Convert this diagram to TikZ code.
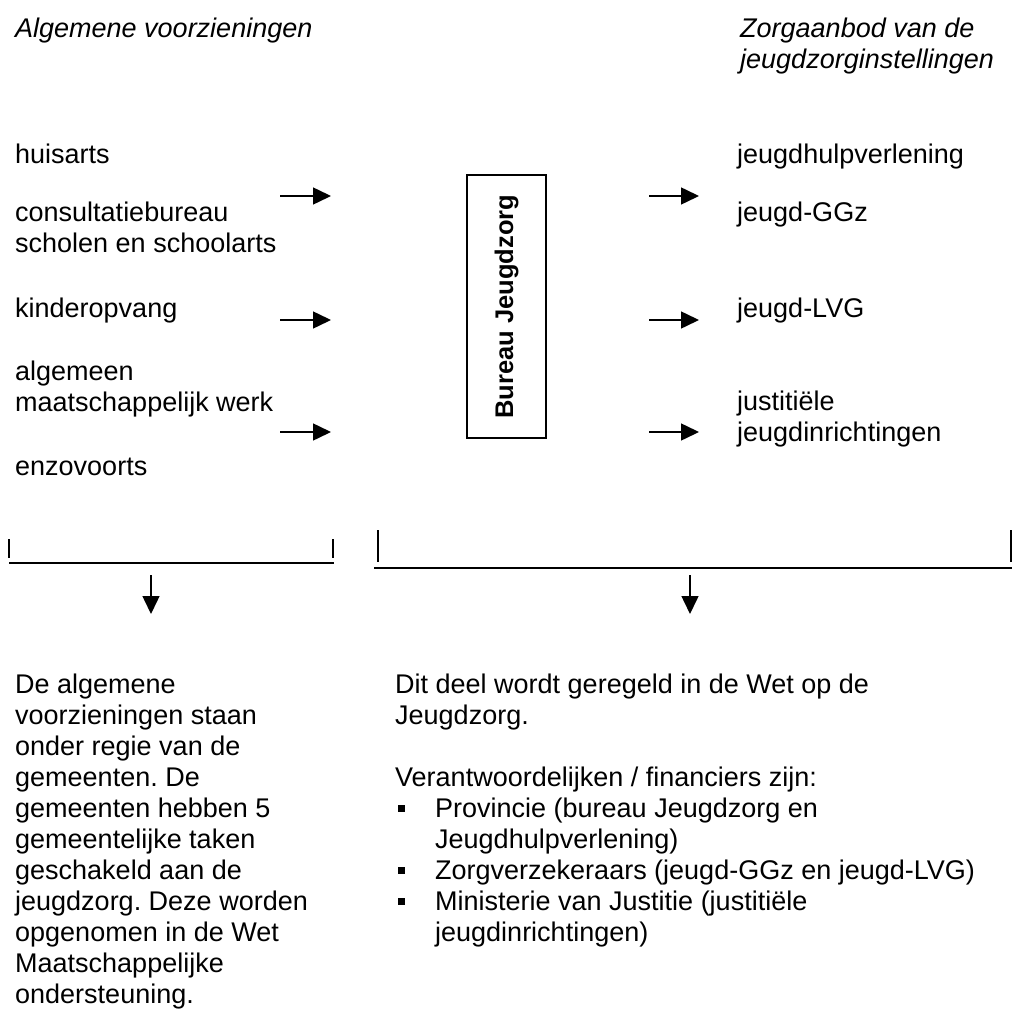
\documentclass[tikz,border=0pt]{standalone}
\usepackage{fontspec}
\setmainfont{Liberation Sans}
\usetikzlibrary{arrows.meta}
\frenchspacing
\newcommand{\fsz}{\fontsize{27pt}{31pt}\selectfont}
\newcommand{\blt}{\makebox[40pt][l]{\hspace{3pt}\rule[5pt]{7pt}{7pt}}}
\newcommand{\ind}{\hspace*{40pt}}
\begin{document}
\begin{tikzpicture}[x=1pt,y=-1pt,
  txt/.style={anchor=base west, inner sep=0pt, font=\fsz},
  arr/.style={line width=1.5pt, -{Triangle[length=18pt,width=17pt]}},
  brk/.style={line width=1.6pt},
  tick/.style={line width=1.3pt}]
\useasboundingbox[fill=white] (0,0) rectangle (1016,1016);

% headers
\node[txt, font=\fsz\itshape] (hl) at (15,38) {Algemene voorzieningen};
\node[txt, font=\fsz\itshape] (hr) at (740,38) {\begin{tabular}[t]{@{}l@{}}Zorgaanbod van de\\jeugdzorginstellingen\end{tabular}};

% left column
\node[txt] (l1) at (15,164) {huisarts};
\node[txt] (l2) at (15,222) {\begin{tabular}[t]{@{}l@{}}consultatiebureau\\scholen en schoolarts\end{tabular}};
\node[txt] (l3) at (15,317) {kinderopvang};
\node[txt] (l4) at (15,380) {\begin{tabular}[t]{@{}l@{}}algemeen\\maatschappelijk werk\end{tabular}};
\node[txt] (l5) at (15,475) {enzovoorts};

% right column
\node[txt] (r1) at (737,164) {jeugdhulpverlening};
\node[txt] (r2) at (737,222) {jeugd-GGz};
\node[txt] (r3) at (737,317) {jeugd-LVG};
\node[txt] (r4) at (737,410) {\begin{tabular}[t]{@{}l@{}}justitiële\\jeugdinrichtingen\end{tabular}};

% central box
\node[draw, line width=1.4pt, rotate=90, minimum width=263pt, minimum height=79pt,
      inner sep=0pt, font=\fontsize{25.5pt}{30pt}\selectfont\bfseries] (bj) at (506.5,306.5) {Bureau Jeugdzorg};

% arrows
\coordinate (a1s) at (280,196); \coordinate (a1e) at (331,196);
\coordinate (a2s) at (280,320); \coordinate (a2e) at (331,320);
\coordinate (a3s) at (280,432); \coordinate (a3e) at (331,432);
\coordinate (b1s) at (649,196); \coordinate (b1e) at (699,196);
\coordinate (b2s) at (649,320); \coordinate (b2e) at (699,320);
\coordinate (b3s) at (649,432); \coordinate (b3e) at (699,432);
\draw[arr] (a1s) -- (a1e);
\draw[arr] (a2s) -- (a2e);
\draw[arr] (a3s) -- (a3e);
\draw[arr] (b1s) -- (b1e);
\draw[arr] (b2s) -- (b2e);
\draw[arr] (b3s) -- (b3e);

% brackets
\coordinate (k1t) at (9,539); \coordinate (k1b) at (9,558);
\coordinate (k2t) at (333,539); \coordinate (k2b) at (333,558);
\coordinate (h1a) at (9,563); \coordinate (h1b) at (334,563);
\draw[tick] (k1t) -- (k1b);
\draw[tick] (k2t) -- (k2b);
\draw[brk] (h1a) -- (h1b);
\coordinate (k3t) at (378,530); \coordinate (k3b) at (378,562);
\coordinate (k4t) at (1011,530); \coordinate (k4b) at (1011,562);
\coordinate (h2a) at (374,568); \coordinate (h2b) at (1012,568);
\draw[tick] (k3t) -- (k3b);
\draw[tick] (k4t) -- (k4b);
\draw[brk] (h2a) -- (h2b);

% down arrows
\coordinate (d1s) at (151,575); \coordinate (d1e) at (151,614);
\coordinate (d2s) at (690,575); \coordinate (d2e) at (690,614);
\draw[arr] (d1s) -- (d1e);
\draw[arr] (d2s) -- (d2e);

% bottom texts
\node[txt] (bl) at (15,693) {\begin{tabular}[t]{@{}l@{}}De algemene\\voorzieningen staan\\onder regie van de\\gemeenten. De\\gemeenten hebben 5\\gemeentelijke taken\\geschakeld aan de\\jeugdzorg. Deze worden\\opgenomen in de Wet\\Maatschappelijke\\ondersteuning.\end{tabular}};
\node[txt] (br) at (395,693) {\begin{tabular}[t]{@{}l@{}}Dit deel wordt geregeld in de Wet op de\\Jeugdzorg.\\ \\Verantwoordelijken / financiers zijn:\\
\blt Provincie (bureau Jeugdzorg en\\
\ind Jeugdhulpverlening)\\
\blt Zorgverzekeraars (jeugd-GGz en jeugd-LVG)\\
\blt Ministerie van Justitie (justitiële\\
\ind jeugdinrichtingen)\end{tabular}};
\end{tikzpicture}
\end{document}
